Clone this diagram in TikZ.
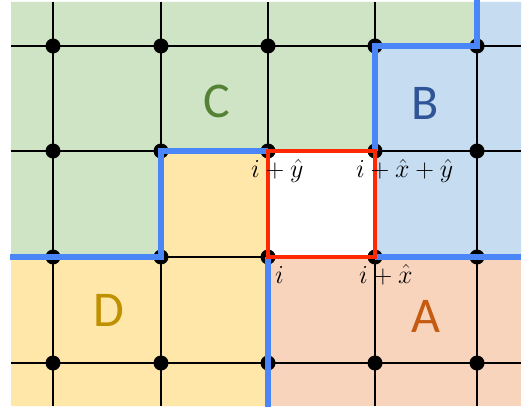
\documentclass[tikz,border=0pt]{standalone}
\usepackage{fontspec}
\newfontfamily\labelfont{Carlito}
\definecolor{cgreen}{RGB}{207,227,197}
\definecolor{cblue}{RGB}{198,220,240}
\definecolor{corange}{RGB}{249,212,189}
\definecolor{cyellow}{RGB}{254,231,168}
\definecolor{wallblue}{RGB}{74,134,247}
\definecolor{plaqred}{RGB}{255,40,0}
\definecolor{tgreen}{RGB}{84,130,53}
\definecolor{tblue}{RGB}{47,85,151}
\definecolor{torange}{RGB}{197,90,17}
\definecolor{tyellow}{RGB}{191,144,0}
\begin{document}
\begin{tikzpicture}[x=1pt,y=-1pt,
  gridline/.style={line width=2.8pt, black},
  dot/.style={circle, fill=black, inner sep=0pt, minimum size=15pt},
  wall/.style={line width=5.5pt, wallblue, line join=miter},
  plaq/.style={line width=4.5pt, plaqred, line join=miter},
  region/.style={inner sep=0pt, font=\labelfont\fontsize{50}{50}\selectfont},
  vlabel/.style={anchor=base west, inner sep=0pt, scale=1.045, font=\Huge}]
\useasboundingbox (0,0) rectangle (532,414);
\fill[white] (0,0) rectangle (532,414);
% regions
\fill[cgreen] (11,2) -- (477,2) -- (477,46) -- (375,46) -- (375,151) -- (161,151) -- (161,257) -- (11,257) -- cycle;
\fill[cblue] (477,2) -- (521,2) -- (521,257) -- (375,257) -- (375,46) -- (477,46) -- cycle;
\fill[corange] (268,257) rectangle (521,406);
\fill[cyellow] (11,257) -- (161,257) -- (161,151) -- (268,151) -- (268,406) -- (11,406) -- cycle;
% grid lines
\foreach \c/\x in {1/53,2/161,3/268,4/375,5/477} {
  \coordinate (t\c) at (\x,2);
  \coordinate (b\c) at (\x,406);
  \draw[gridline] (t\c) -- (b\c);
}
\foreach \r/\y in {1/46,2/151,3/257,4/363} {
  \coordinate (l\r) at (11,\y);
  \coordinate (r\r) at (521,\y);
  \draw[gridline] (l\r) -- (r\r);
}
% dots
\foreach \c/\x in {1/53,2/161,3/268,4/375,5/477} {
  \foreach \r/\y in {1/46,2/151,3/257,4/363} {
    \node[dot] (p\c\r) at (\x,\y) {};
  }
}
% domain walls
\coordinate (wtop) at (477,0);
\coordinate (wleft) at (10,257);
\coordinate (wright) at (521,257);
\coordinate (wbot) at (268,407);
\draw[wall] (wtop) -- (p51.center) -- (p41.center) -- (p42.center);
\draw[wall] (p43.center) -- (wright);
\draw[wall] (wleft) -- (p23.center) -- (p22.center) -- (p32.center);
\draw[wall] (p33.center) -- (wbot);
% plaquette
\draw[plaq] (p32.center) rectangle (p43.center);
% region letters
\node[region, text=tgreen] (lc) at (217,101) {C};
\node[region, text=tblue] (lb) at (425,103) {B};
\node[region, text=torange] (la) at (426,316) {A};
\node[region, text=tyellow] (ld) at (109,310) {D};
% vertex labels
\node[vlabel] (vi) at (275,283) {$i$};
\node[vlabel] (vix) at (359,283) {$i+\hat{x}$};
\node[vlabel] (viy) at (251,178) {$i+\hat{y}$};
\node[vlabel] (vixy) at (356,178) {$i+\hat{x}+\hat{y}$};
\end{tikzpicture}
\end{document}
